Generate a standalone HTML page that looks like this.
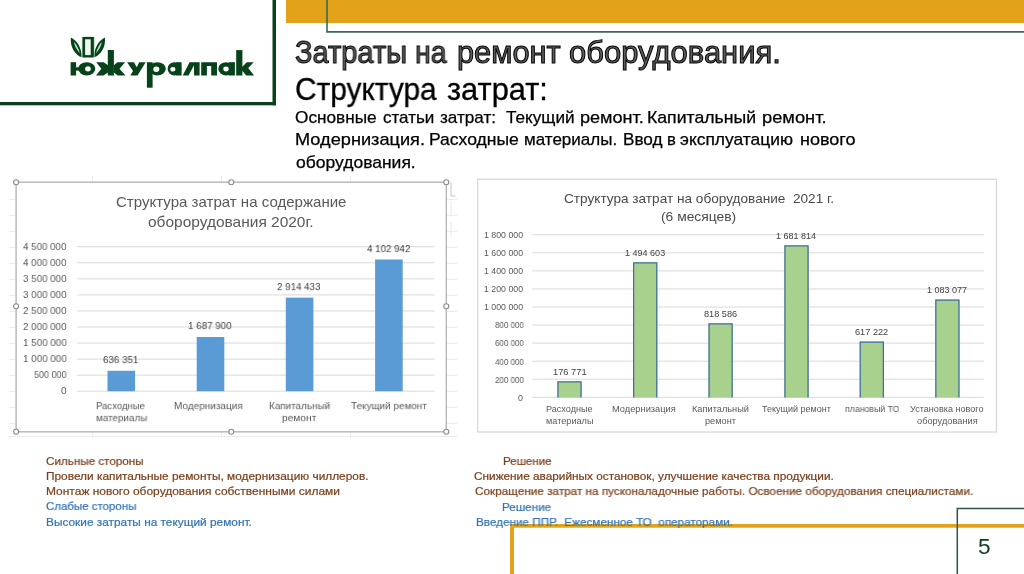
<!DOCTYPE html>
<html><head><meta charset="utf-8"><title>slide</title>
<style>
html,body{margin:0;padding:0;background:#fff;}
body{width:1024px;height:574px;position:relative;overflow:hidden;font-family:"Liberation Sans",sans-serif;}
.t{will-change:transform;position:absolute;white-space:pre;line-height:1;transform-origin:0 0;display:block;}
svg{position:absolute;left:0;top:0;}
</style></head><body>
<svg width="1024" height="574" viewBox="0 0 1024 574">
<rect x="286" y="0" width="738" height="23" fill="#e2a31a"/>
<path d="M327 0V31.9H1024" fill="none" stroke="#3f6852" stroke-width="1.6"/>
<rect x="0" y="102" width="276" height="3.3" fill="#07421a"/>
<rect x="272.5" y="0" width="3.5" height="105.3" fill="#07421a"/>
<rect x="510" y="524" width="514" height="3.7" fill="#e2a31a"/>
<rect x="510" y="524" width="4" height="50" fill="#e2a31a"/>
<path d="M957.3 574V508.4H1024" fill="none" stroke="#2f5842" stroke-width="1.5"/>
<path d="M9 199.5H16M447 199.5H457" stroke="#ececec" stroke-width="1"/>
<path d="M9 215.5H16M447 215.5H457" stroke="#ececec" stroke-width="1"/>
<path d="M9 231.5H16M447 231.5H457" stroke="#ececec" stroke-width="1"/>
<path d="M9 247.5H16M447 247.5H457" stroke="#ececec" stroke-width="1"/>
<path d="M9 263.5H16M447 263.5H457" stroke="#ececec" stroke-width="1"/>
<path d="M9 279.5H16M447 279.5H457" stroke="#ececec" stroke-width="1"/>
<path d="M9 295.5H16M447 295.5H457" stroke="#ececec" stroke-width="1"/>
<path d="M9 311.5H16M447 311.5H457" stroke="#ececec" stroke-width="1"/>
<path d="M9 327.5H16M447 327.5H457" stroke="#ececec" stroke-width="1"/>
<path d="M9 343.5H16M447 343.5H457" stroke="#ececec" stroke-width="1"/>
<path d="M9 359.5H16M447 359.5H457" stroke="#ececec" stroke-width="1"/>
<path d="M9 375.5H16M447 375.5H457" stroke="#ececec" stroke-width="1"/>
<path d="M9 391.5H16M447 391.5H457" stroke="#ececec" stroke-width="1"/>
<path d="M9 407.5H16M447 407.5H457" stroke="#ececec" stroke-width="1"/>
<path d="M9 423.5H16M447 423.5H457" stroke="#ececec" stroke-width="1"/>
<path d="M9 436.5H457" stroke="#ececec" stroke-width="1"/>
<path d="M92.5 176V182M92.5 432V438" stroke="#ececec" stroke-width="1"/>
<path d="M221.5 176V182M221.5 432V438" stroke="#ececec" stroke-width="1"/>
<path d="M350.5 176V182M350.5 432V438" stroke="#ececec" stroke-width="1"/>
<path d="M451 182.5V196H455.5" fill="none" stroke="#c4c4c4" stroke-width="1"/><path d="M451 201V216M451 222V236" fill="none" stroke="#e6e6e6" stroke-width="1"/>
<rect x="16.1" y="182.2" width="430.2" height="249.60000000000002" fill="#fff" stroke="#bababa" stroke-width="1.5"/>
<path d="M76.8 391.20H434.6" stroke="#d9d9d9" stroke-width="1"/>
<path d="M76.8 375.15H434.6" stroke="#d9d9d9" stroke-width="1"/>
<path d="M76.8 359.10H434.6" stroke="#d9d9d9" stroke-width="1"/>
<path d="M76.8 343.05H434.6" stroke="#d9d9d9" stroke-width="1"/>
<path d="M76.8 327.00H434.6" stroke="#d9d9d9" stroke-width="1"/>
<path d="M76.8 310.95H434.6" stroke="#d9d9d9" stroke-width="1"/>
<path d="M76.8 294.90H434.6" stroke="#d9d9d9" stroke-width="1"/>
<path d="M76.8 278.85H434.6" stroke="#d9d9d9" stroke-width="1"/>
<path d="M76.8 262.80H434.6" stroke="#d9d9d9" stroke-width="1"/>
<path d="M76.8 246.75H434.6" stroke="#d9d9d9" stroke-width="1"/>
<rect x="107.50" y="370.77" width="27.6" height="20.43" fill="#5b9bd5"/>
<rect x="196.70" y="337.02" width="27.6" height="54.18" fill="#5b9bd5"/>
<rect x="285.80" y="297.65" width="27.6" height="93.55" fill="#5b9bd5"/>
<rect x="375.10" y="259.50" width="27.6" height="131.70" fill="#5b9bd5"/>
<circle cx="16.1" cy="182.2" r="2.5" fill="#fff" stroke="#8a8a8a" stroke-width="1.1"/>
<circle cx="231.3" cy="182.2" r="2.5" fill="#fff" stroke="#8a8a8a" stroke-width="1.1"/>
<circle cx="446.3" cy="182.2" r="2.5" fill="#fff" stroke="#8a8a8a" stroke-width="1.1"/>
<circle cx="16.1" cy="306.2" r="2.5" fill="#fff" stroke="#8a8a8a" stroke-width="1.1"/>
<circle cx="446.3" cy="306.2" r="2.5" fill="#fff" stroke="#8a8a8a" stroke-width="1.1"/>
<circle cx="16.1" cy="431.8" r="2.5" fill="#fff" stroke="#8a8a8a" stroke-width="1.1"/>
<circle cx="231.3" cy="431.8" r="2.5" fill="#fff" stroke="#8a8a8a" stroke-width="1.1"/>
<circle cx="446.3" cy="431.8" r="2.5" fill="#fff" stroke="#8a8a8a" stroke-width="1.1"/>
<rect x="477.7" y="179.3" width="518.8" height="252.7" fill="#fff" stroke="#d6d6d6" stroke-width="1.2"/>
<path d="M532.3 397.30H984.2" stroke="#d9d9d9" stroke-width="1"/>
<path d="M532.3 379.24H984.2" stroke="#d9d9d9" stroke-width="1"/>
<path d="M532.3 361.18H984.2" stroke="#d9d9d9" stroke-width="1"/>
<path d="M532.3 343.12H984.2" stroke="#d9d9d9" stroke-width="1"/>
<path d="M532.3 325.06H984.2" stroke="#d9d9d9" stroke-width="1"/>
<path d="M532.3 307.00H984.2" stroke="#d9d9d9" stroke-width="1"/>
<path d="M532.3 288.94H984.2" stroke="#d9d9d9" stroke-width="1"/>
<path d="M532.3 270.88H984.2" stroke="#d9d9d9" stroke-width="1"/>
<path d="M532.3 252.82H984.2" stroke="#d9d9d9" stroke-width="1"/>
<path d="M532.3 234.76H984.2" stroke="#d9d9d9" stroke-width="1"/>
<rect x="557.40" y="381.34" width="24.2" height="16.26" fill="#a9d18e"/>
<path d="M557.95 397.60V381.89H581.05V397.60" fill="none" stroke="#41719c" stroke-width="1.25"/>
<rect x="633.10" y="262.34" width="24.2" height="135.26" fill="#a9d18e"/>
<path d="M633.65 397.60V262.89H656.75V397.60" fill="none" stroke="#41719c" stroke-width="1.25"/>
<rect x="708.50" y="323.38" width="24.2" height="74.22" fill="#a9d18e"/>
<path d="M709.05 397.60V323.93H732.15V397.60" fill="none" stroke="#41719c" stroke-width="1.25"/>
<rect x="784.40" y="245.43" width="24.2" height="152.17" fill="#a9d18e"/>
<path d="M784.95 397.60V245.98H808.05V397.60" fill="none" stroke="#41719c" stroke-width="1.25"/>
<rect x="859.70" y="341.56" width="24.2" height="56.04" fill="#a9d18e"/>
<path d="M860.25 397.60V342.11H883.35V397.60" fill="none" stroke="#41719c" stroke-width="1.25"/>
<rect x="935.30" y="299.50" width="24.2" height="98.10" fill="#a9d18e"/>
<path d="M935.85 397.60V300.05H958.95V397.60" fill="none" stroke="#41719c" stroke-width="1.25"/>
<defs><clipPath id="band"><rect x="60" y="62.2" width="200" height="13.3"/></clipPath></defs>
<g fill="#07421a" stroke="none">
<path d="M70.9 37.4C77.5 40.5 81.8 48.5 81.6 57.3C75 55 69.8 46.5 70.9 37.4Z"/>
<path d="M104.9 37.4C98.3 40.5 94 48.5 94.2 57.3C100.8 55 106 46.5 104.9 37.4Z"/>
<path d="M73.9 41.8C76.5 44.5 79 49 79.8 53.3C77 50.5 74.5 46 73.9 41.8Z" fill="#b5e2c0"/>
<path d="M101.9 41.8C99.3 44.5 96.8 49 96 53.3C98.8 50.5 101.3 46 101.9 41.8Z" fill="#b5e2c0"/>
<rect x="81.8" y="37" width="12.7" height="20.4" fill="#8fc29a"/>
<rect x="82.6" y="36.9" width="11.2" height="20.5"/>
<rect x="85.1" y="39.3" width="5.6" height="15.8" fill="#f1f9f0"/>
<rect x="70.6" y="62.2" width="5.5" height="13.299999999999997"/>
<rect x="75.5" y="67.3" width="5" height="3.3"/>
<path fill-rule="evenodd" d="M78.2 68.85a8.55 6.7 0 1 0 17.1 0a8.55 6.7 0 1 0 -17.1 0ZM85.1 68.85a2.85 2.7 0 1 0 5.7 0a2.85 2.7 0 1 0 -5.7 0Z"/>
<rect x="107.8" y="50" width="6.1" height="25.5"/>
<path d="M96.2 62.2H103.7L108 65.2V72.6L103.5 75.5H96L101.4 68.85Z"/>
<path d="M125.1 62.2H117.5L113.8 65.2V72.6L117.7 75.5H125.5L119.5 68.85Z"/>
<path d="M127.1 62.2H134L136.7 67.2L139.2 62.2H145.7L137.5 75.5H130.3L133 71Z"/>
<rect x="146.9" y="62.2" width="5.7" height="25.5"/>
<path fill-rule="evenodd" d="M148.9 68.85a8.45 6.7 0 1 0 16.9 0a8.45 6.7 0 1 0 -16.9 0ZM153.3 69.2a3 2.7 0 1 0 6 0a3 2.7 0 1 0 -6 0Z"/>
<rect x="176.1" y="62.2" width="5.5" height="13.299999999999997"/>
<path fill-rule="evenodd" d="M167.6 68.85a6.9 6.7 0 1 0 13.8 0a6.9 6.7 0 1 0 -13.8 0ZM170.3 69.3a2.6 2.3 0 1 0 5.2 0a2.6 2.3 0 1 0 -5.2 0Z"/>
<rect x="194" y="62.2" width="5.6" height="13.299999999999997"/>
<path d="M182.7 75.5H188.5L194.2 65V62.2H189.6Z"/>
<path d="M201.2 75.5V62.2H217V75.5H211.2V66H206.9V75.5Z"/>
<rect x="229" y="62.2" width="5.9" height="13.299999999999997"/>
<path fill-rule="evenodd" d="M218.3 68.85a7.9 6.7 0 1 0 15.8 0a7.9 6.7 0 1 0 -15.8 0ZM223.3 69a2.7 2.4 0 1 0 5.4 0a2.7 2.4 0 1 0 -5.4 0Z"/>
<rect x="236.2" y="50.1" width="6.2" height="25.4"/>
<path d="M242 66.9L246.8 62.2H253.7L248.2 68L254.1 75.5H246.2L242 70.5Z"/>
</g>
</svg>
<span class="t" style="left:295.29px;top:38.00px;font-size:30.7px;color:#5c5c5c;transform:scaleX(0.9450);-webkit-text-stroke:1.0px #000;">Затраты</span>
<span class="t" style="left:415.49px;top:38.00px;font-size:30.7px;color:#5c5c5c;transform:scaleX(0.9256);-webkit-text-stroke:1.0px #000;">на</span>
<span class="t" style="left:456.87px;top:38.00px;font-size:30.7px;color:#5c5c5c;transform:scaleX(1.0034);-webkit-text-stroke:1.0px #000;">ремонт</span>
<span class="t" style="left:569.38px;top:38.00px;font-size:30.7px;color:#5c5c5c;transform:scaleX(1.0089);-webkit-text-stroke:1.0px #000;">оборудования.</span>
<span class="t" style="left:295.12px;top:75.00px;font-size:30.7px;color:#000;transform:scaleX(0.9726);-webkit-text-stroke:0.3px #000;">Структура</span>
<span class="t" style="left:447.22px;top:75.00px;font-size:30.7px;color:#000;transform:scaleX(1.0026);-webkit-text-stroke:0.3px #000;">затрат:</span>
<span class="t" style="left:295.25px;top:108.80px;font-size:16.1px;color:#000;transform:scaleX(1.0687);-webkit-text-stroke:0.25px #000;">Основные</span>
<span class="t" style="left:382.72px;top:108.80px;font-size:16.1px;color:#000;transform:scaleX(1.0571);-webkit-text-stroke:0.25px #000;">статьи</span>
<span class="t" style="left:439.50px;top:108.80px;font-size:16.1px;color:#000;transform:scaleX(1.0631);-webkit-text-stroke:0.25px #000;">затрат:</span>
<span class="t" style="left:505.75px;top:108.80px;font-size:16.1px;color:#000;transform:scaleX(1.0658);-webkit-text-stroke:0.25px #000;">Текущий</span>
<span class="t" style="left:579.95px;top:108.80px;font-size:16.1px;color:#000;transform:scaleX(1.1228);-webkit-text-stroke:0.25px #000;">ремонт.</span>
<span class="t" style="left:647.48px;top:108.80px;font-size:16.1px;color:#000;transform:scaleX(1.0980);-webkit-text-stroke:0.25px #000;">Капитальный</span>
<span class="t" style="left:761.84px;top:108.80px;font-size:16.1px;color:#000;transform:scaleX(1.1356);-webkit-text-stroke:0.25px #000;">ремонт.</span>
<span class="t" style="left:295.04px;top:131.40px;font-size:16.1px;color:#000;transform:scaleX(1.1298);-webkit-text-stroke:0.25px #000;">Модернизация.</span>
<span class="t" style="left:429.29px;top:131.40px;font-size:16.1px;color:#000;transform:scaleX(1.0889);-webkit-text-stroke:0.25px #000;">Расходные</span>
<span class="t" style="left:524.46px;top:131.40px;font-size:16.1px;color:#000;transform:scaleX(1.0570);-webkit-text-stroke:0.25px #000;">материалы.</span>
<span class="t" style="left:623.02px;top:131.40px;font-size:16.1px;color:#000;transform:scaleX(1.0652);-webkit-text-stroke:0.25px #000;">Ввод</span>
<span class="t" style="left:667.08px;top:131.40px;font-size:16.1px;color:#000;transform:scaleX(1.0375);-webkit-text-stroke:0.25px #000;">в</span>
<span class="t" style="left:680.48px;top:131.40px;font-size:16.1px;color:#000;transform:scaleX(1.0813);-webkit-text-stroke:0.25px #000;">эксплуатацию</span>
<span class="t" style="left:799.90px;top:131.40px;font-size:16.1px;color:#000;transform:scaleX(1.1198);-webkit-text-stroke:0.25px #000;">нового</span>
<span class="t" style="left:295.72px;top:154.10px;font-size:16.1px;color:#000;transform:scaleX(1.0872);-webkit-text-stroke:0.25px #000;">оборудования.</span>
<span class="t" style="left:116.28px;top:194.70px;font-size:14.4px;color:#595959;transform:scaleX(1.0456);">Структура затрат на содержание</span>
<span class="t" style="left:148.08px;top:215.30px;font-size:14.4px;color:#595959;transform:scaleX(1.0750);">оборорудования 2020г.</span>
<span class="t" style="left:61.16px;top:387.45px;font-size:10.0px;color:#595959;transform:scale(1.0038,0.875);">0</span>
<span class="t" style="left:34.18px;top:371.40px;font-size:10.0px;color:#595959;transform:scale(0.9020,0.875);">500 000</span>
<span class="t" style="left:22.87px;top:355.35px;font-size:10.0px;color:#595959;transform:scale(0.9843,0.875);">1 000 000</span>
<span class="t" style="left:22.87px;top:339.30px;font-size:10.0px;color:#595959;transform:scale(0.9843,0.875);">1 500 000</span>
<span class="t" style="left:23.14px;top:323.25px;font-size:10.0px;color:#595959;transform:scale(0.9781,0.875);">2 000 000</span>
<span class="t" style="left:23.14px;top:307.20px;font-size:10.0px;color:#595959;transform:scale(0.9781,0.875);">2 500 000</span>
<span class="t" style="left:23.07px;top:291.15px;font-size:10.0px;color:#595959;transform:scale(0.9796,0.875);">3 000 000</span>
<span class="t" style="left:23.07px;top:275.10px;font-size:10.0px;color:#595959;transform:scale(0.9796,0.875);">3 500 000</span>
<span class="t" style="left:23.28px;top:259.05px;font-size:10.0px;color:#595959;transform:scale(0.9750,0.875);">4 000 000</span>
<span class="t" style="left:23.28px;top:243.00px;font-size:10.0px;color:#595959;transform:scale(0.9750,0.875);">4 500 000</span>
<span class="t" style="left:103.44px;top:355.87px;font-size:10.0px;color:#404040;transform:scale(0.9787,0.89);">636 351</span>
<span class="t" style="left:188.15px;top:322.12px;font-size:10.0px;color:#404040;transform:scale(0.9802,0.89);">1 687 900</span>
<span class="t" style="left:277.49px;top:282.75px;font-size:10.0px;color:#404040;transform:scale(0.9764,0.89);">2 914 433</span>
<span class="t" style="left:366.93px;top:244.60px;font-size:10.0px;color:#404040;transform:scale(0.9735,0.89);">4 102 942</span>
<span class="t" style="left:96.43px;top:402.04px;font-size:10.2px;color:#595959;transform:scale(0.9365,0.9);">Расходные</span>
<span class="t" style="left:95.57px;top:414.34px;font-size:10.2px;color:#595959;transform:scale(0.9680,0.9);">материалы</span>
<span class="t" style="left:173.99px;top:402.04px;font-size:10.2px;color:#595959;transform:scale(0.9813,0.9);">Модернизация</span>
<span class="t" style="left:268.90px;top:402.04px;font-size:10.2px;color:#595959;transform:scale(0.9722,0.9);">Капитальный</span>
<span class="t" style="left:282.16px;top:414.34px;font-size:10.2px;color:#595959;transform:scale(0.9987,0.9);">ремонт</span>
<span class="t" style="left:350.67px;top:402.04px;font-size:10.2px;color:#595959;transform:scale(0.9745,0.9);">Текущий ремонт</span>
<span class="t" style="left:563.56px;top:192.49px;font-size:13.2px;color:#4a4a4a;transform:scaleX(1.0322);">Структура затрат на оборудование  2021 г.</span>
<span class="t" style="left:660.50px;top:210.29px;font-size:13.2px;color:#4a4a4a;transform:scaleX(1.0486);">(6 месяцев)</span>
<span class="t" style="left:518.28px;top:393.65px;font-size:8.7px;color:#595959;transform:scaleX(1.0180);">0</span>
<span class="t" style="left:494.53px;top:375.59px;font-size:8.7px;color:#595959;transform:scaleX(0.9196);">200 000</span>
<span class="t" style="left:494.59px;top:357.53px;font-size:8.7px;color:#595959;transform:scaleX(0.9178);">400 000</span>
<span class="t" style="left:494.56px;top:339.47px;font-size:8.7px;color:#595959;transform:scaleX(0.9187);">600 000</span>
<span class="t" style="left:494.55px;top:321.41px;font-size:8.7px;color:#595959;transform:scaleX(0.9189);">800 000</span>
<span class="t" style="left:484.25px;top:303.35px;font-size:8.7px;color:#595959;transform:scaleX(1.0093);">1 000 000</span>
<span class="t" style="left:484.25px;top:285.29px;font-size:8.7px;color:#595959;transform:scaleX(1.0093);">1 200 000</span>
<span class="t" style="left:484.25px;top:267.23px;font-size:8.7px;color:#595959;transform:scaleX(1.0093);">1 400 000</span>
<span class="t" style="left:484.25px;top:249.17px;font-size:8.7px;color:#595959;transform:scaleX(1.0093);">1 600 000</span>
<span class="t" style="left:484.25px;top:231.11px;font-size:8.7px;color:#595959;transform:scaleX(1.0093);">1 800 000</span>
<span class="t" style="left:552.71px;top:367.99px;font-size:8.7px;color:#404040;transform:scaleX(1.0695);">176 771</span>
<span class="t" style="left:625.03px;top:248.99px;font-size:8.7px;color:#404040;transform:scaleX(1.0387);">1 494 603</span>
<span class="t" style="left:704.09px;top:310.03px;font-size:8.7px;color:#404040;transform:scaleX(1.0558);">818 586</span>
<span class="t" style="left:776.33px;top:232.08px;font-size:8.7px;color:#404040;transform:scaleX(1.0368);">1 681 814</span>
<span class="t" style="left:855.29px;top:328.21px;font-size:8.7px;color:#404040;transform:scaleX(1.0580);">617 222</span>
<span class="t" style="left:927.23px;top:286.15px;font-size:8.7px;color:#404040;transform:scaleX(1.0381);">1 083 077</span>
<span class="t" style="left:546.31px;top:405.43px;font-size:9.0px;color:#595959;transform:scaleX(1.0094);">Расходные</span>
<span class="t" style="left:545.86px;top:417.03px;font-size:9.0px;color:#595959;transform:scaleX(1.0161);">материалы</span>
<span class="t" style="left:611.94px;top:405.43px;font-size:9.0px;color:#595959;transform:scaleX(1.0312);">Модернизация</span>
<span class="t" style="left:692.49px;top:405.43px;font-size:9.0px;color:#595959;transform:scaleX(1.0249);">Капитальный</span>
<span class="t" style="left:705.28px;top:417.03px;font-size:9.0px;color:#595959;transform:scaleX(1.0237);">ремонт</span>
<span class="t" style="left:761.99px;top:405.43px;font-size:9.0px;color:#595959;transform:scaleX(0.9979);">Текущий ремонт</span>
<span class="t" style="left:844.74px;top:405.43px;font-size:9.0px;color:#595959;transform:scaleX(0.9717);">плановый ТО</span>
<span class="t" style="left:910.39px;top:405.43px;font-size:9.0px;color:#595959;transform:scaleX(1.0100);">Установка нового</span>
<span class="t" style="left:916.75px;top:417.03px;font-size:9.0px;color:#595959;transform:scaleX(1.0268);">оборудования</span>
<span class="t" style="left:46.40px;top:455.60px;font-size:11.8px;color:#7c401c;transform:scaleX(0.9876);-webkit-text-stroke-width:0.22px;">Сильные стороны</span>
<span class="t" style="left:46.09px;top:470.60px;font-size:11.8px;color:#7c401c;transform:scaleX(1.0055);-webkit-text-stroke-width:0.22px;">Провели капитальные ремонты, модернизацию чиллеров.</span>
<span class="t" style="left:46.05px;top:485.90px;font-size:11.8px;color:#7c401c;transform:scaleX(1.0146);-webkit-text-stroke-width:0.22px;">Монтаж нового оборудования собственными силами</span>
<span class="t" style="left:46.41px;top:501.20px;font-size:11.8px;color:#3374b3;transform:scaleX(0.9723);-webkit-text-stroke-width:0.22px;">Слабые стороны</span>
<span class="t" style="left:46.06px;top:516.50px;font-size:11.8px;color:#3374b3;transform:scaleX(1.0048);-webkit-text-stroke-width:0.22px;">Высокие затраты на текущий ремонт.</span>
<span class="t" style="left:502.98px;top:455.70px;font-size:11.8px;color:#7c401c;transform:scaleX(0.9801);-webkit-text-stroke-width:0.22px;">Решение</span>
<span class="t" style="left:474.30px;top:471.00px;font-size:11.8px;color:#7c401c;transform:scaleX(1.0004);-webkit-text-stroke-width:0.22px;">Снижение аварийных остановок, улучшение качества продукции.</span>
<span class="t" style="left:474.70px;top:486.20px;font-size:11.8px;color:#7c401c;transform:scaleX(0.9953);-webkit-text-stroke-width:0.22px;">Сокращение затрат на пусконаладочные работы. Освоение оборудования специалистами.</span>
<span class="t" style="left:502.07px;top:501.60px;font-size:11.8px;color:#3374b3;transform:scaleX(0.9904);-webkit-text-stroke-width:0.22px;">Решение</span>
<span class="t" style="left:475.67px;top:516.90px;font-size:11.8px;color:#3374b3;transform:scaleX(0.9917);-webkit-text-stroke-width:0.22px;">Введение ППР.  Ежесменное ТО  операторами.</span>
<span class="t" style="left:978.20px;top:536.40px;font-size:22.4px;color:#0b3d1a;transform:scaleX(1.0131);">5</span>
</body></html>
